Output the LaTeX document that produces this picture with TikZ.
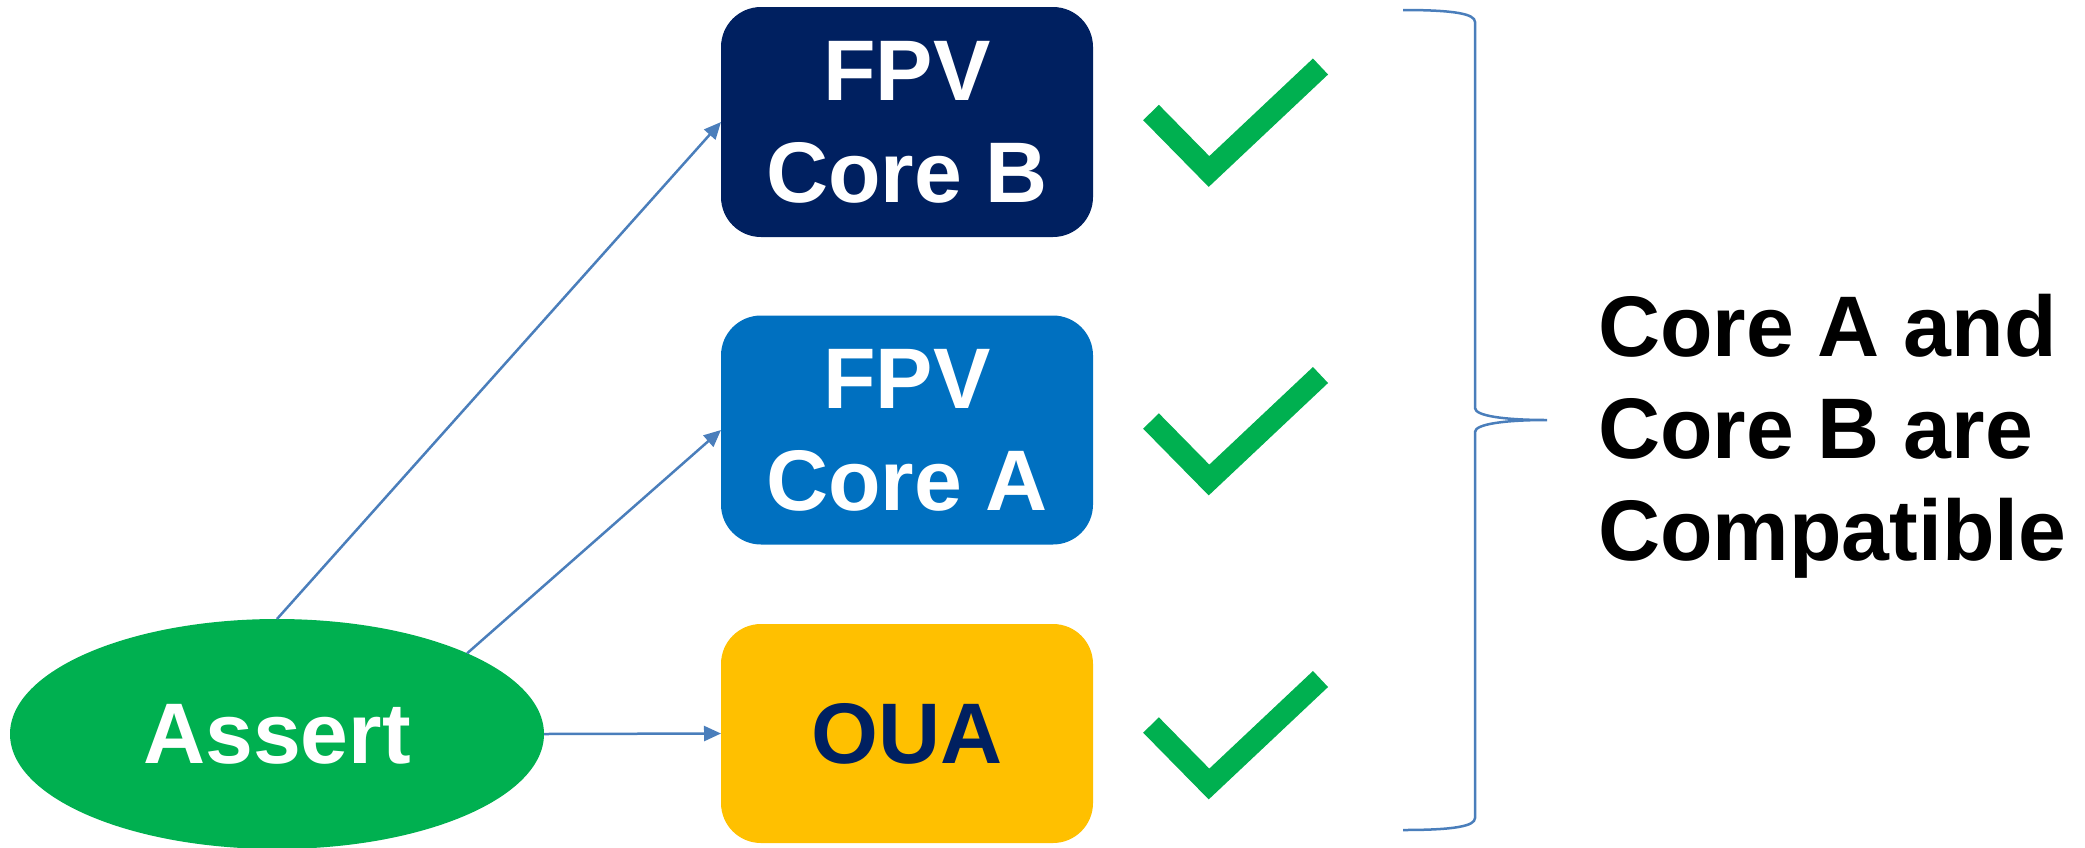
\documentclass[tikz,border=0pt]{standalone}
\usepackage{fontspec}
\setmainfont{Liberation Sans}
\usetikzlibrary{shapes.geometric,arrows.meta}

\definecolor{navy}{HTML}{002060}
\definecolor{azure}{HTML}{0070C0}
\definecolor{gold}{HTML}{FFC000}
\definecolor{grn}{HTML}{00B050}
\definecolor{linkblue}{HTML}{4A7EBB}

\tikzset{
  bigtext/.style={font={\fontsize{86}{102}\selectfont\bfseries}},
  corebox/.style={rectangle, rounded corners=40pt, minimum width=372pt,
    minimum height=230pt, inner sep=0pt, outer sep=0pt, text=white,
    align=center, bigtext},
  oval/.style={ellipse, fill=grn, minimum width=534pt, minimum height=230pt,
    inner sep=0pt, outer sep=0pt, text=white, bigtext},
  link/.style={draw=linkblue, line width=2.5pt,
    -{Triangle[length=17pt,width=15pt]}},
  brace/.style={draw=linkblue, line width=2.5pt},
  okmark/.pic={
    \draw[grn, line width=22pt, line join=miter, miter limit=10]
      (-58,-59) -- (0,0) -- (111.5,-105);
  }
}

\begin{document}
\begin{tikzpicture}[x=1pt, y=-1pt]
\useasboundingbox (0,0) rectangle (2085,847);

% verification targets
\node[corebox, fill=navy] (coreb) at (907,122) {FPV\\Core B};
\node[corebox, fill=azure, minimum height=229pt] (corea) at (907,430) {FPV\\Core A};
\node[corebox, fill=gold, text=navy, minimum height=219pt] (oua) at (907,733.5) {OUA};

% source of the property
\node[oval] (assert) at (277,734) {Assert};

% connectors
\draw[link] (assert.north) -- (coreb.west);
\draw[link] (assert.23) -- (corea.west);
\draw[link] (assert.east) -- (oua.west);

% pass marks
\pic (passb) at (1209,171.5) {okmark};
\pic (passa) at (1209,480) {okmark};
\pic (passo) at (1209,784) {okmark};

% grouping brace
\draw[brace] (1403,10) .. controls (1455,10) and (1475,14) .. (1475,22)
  -- (1475,408) .. controls (1475,416) and (1505,420) .. (1547,420)
  .. controls (1505,420) and (1475,424) .. (1475,432)
  -- (1475,818) .. controls (1475,826) and (1455,830) .. (1403,830);

% conclusion
\node[anchor=north west, inner sep=0pt, align=left, bigtext, text=black]
  (verdict) at (1598,294) {Core A and\\Core B are\\Compatible};
\end{tikzpicture}
\end{document}
